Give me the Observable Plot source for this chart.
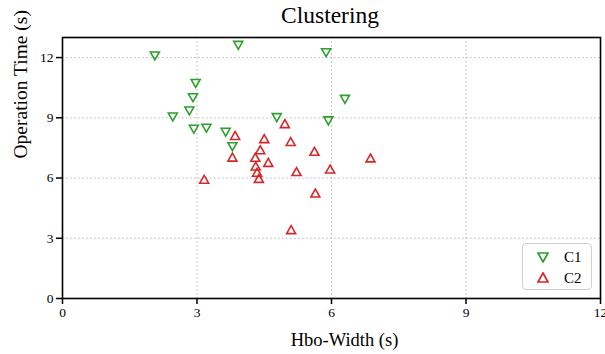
<!DOCTYPE html>
<html>
<head>
<meta charset="utf-8">
<script src="https://cdn.jsdelivr.net/npm/d3@7"></script>
<script src="https://cdn.jsdelivr.net/npm/@observablehq/plot@0.6"></script>
<style>
  body { margin: 0; background: #fff; }
  #wrap { position: relative; width: 605px; height: 354px; font-family: "Liberation Serif", "Times New Roman", serif; }
  #title { position: absolute; left: 62px; width: 536px; top: 2px; text-align: center; font-size: 23.5px; line-height: normal; color: #000; }
  #legend { position: absolute; left: 522px; top: 243px; width: 68px; height: 45px; border: 1.5px solid #d0d0d0; border-radius: 4px; background: rgba(255,255,255,0.85); }
  .lg { position: absolute; left: 0; height: 20px; display: flex; align-items: center; font-size: 15px; }
  .lg svg { margin-left: 14px; margin-right: 15px; }
</style>
</head>
<body>
<div id="wrap">
  <div id="chart"></div>
  <div id="title">Clustering</div>
  <div id="legend"></div>
</div>
<script>
// ---- data ----
const c1X = [2.06, 3.92, 5.88, 2.97, 2.91, 2.83, 2.46, 2.93, 3.21, 3.64, 3.79, 4.78, 5.93, 6.30];
const c1Y = [12.08, 12.61, 12.24, 10.71, 10.00, 9.34, 9.04, 8.43, 8.48, 8.28, 7.56, 9.01, 8.85, 9.92];
const c2X = [4.96, 3.85, 4.50, 5.09, 4.41, 5.62, 3.79, 4.30, 4.59, 6.87, 4.31, 4.34, 5.22, 5.97, 4.38, 3.16, 5.64, 5.10];
const c2Y = [8.71, 8.12, 7.96, 7.82, 7.41, 7.33, 7.04, 7.03, 6.78, 7.00, 6.60, 6.29, 6.32, 6.45, 5.98, 5.94, 5.25, 3.43];
const seriesNames = ["C1", "C2"];
const xTicks = [0, 3, 6, 9, 12];
const yTicks = [0, 3, 6, 9, 12];
const xLabel = "Hbo-Width (s)";
const yLabel = "Operation Time (s)";
const colors = { C1: "#2ca02c", C2: "#d62728" };

const c1 = c1X.map((x, i) => ({ x, y: c1Y[i], s: "C1" }));
const c2 = c2X.map((x, i) => ({ x, y: c2Y[i], s: "C2" }));

// bbox-centred triangles (like matplotlib markers)
const triDown = { draw(ctx, size) { const a = Math.sqrt(size / Math.PI); const h = a * 0.88;
  ctx.moveTo(-a, -h); ctx.lineTo(a, -h); ctx.lineTo(0, h); ctx.closePath(); } };
const triUp = { draw(ctx, size) { const a = Math.sqrt(size / Math.PI); const h = a * 0.88;
  ctx.moveTo(0, -h); ctx.lineTo(a, h); ctx.lineTo(-a, h); ctx.closePath(); } };

const chart = Plot.plot({
  width: 605,
  height: 354,
  marginTop: 37,
  marginLeft: 62,
  marginRight: 5,
  marginBottom: 56,
  style: { fontFamily: "Liberation Serif, Times New Roman, serif", fontSize: "13.5px", color: "#000", background: "#fff" },
  x: { domain: [0, 12], ticks: xTicks, label: null },
  y: { domain: [0, 13], ticks: yTicks, label: null },
  marks: [
    Plot.gridX(xTicks, { stroke: "#b8b8b8", strokeOpacity: 1, strokeDasharray: "1.5,2.5" }),
    Plot.gridY(yTicks, { stroke: "#b8b8b8", strokeOpacity: 1, strokeDasharray: "1.5,2.5" }),
    Plot.axisX(xTicks, { tickSize: 6, tickPadding: 3, strokeWidth: 1.5, stroke: "#000", label: null }),
    Plot.axisY(yTicks, { tickSize: 6, tickPadding: 3, strokeWidth: 1.5, stroke: "#000", label: null }),
    Plot.text([xLabel], { frameAnchor: "bottom", dy: 42, dx: 13, fontSize: 18.5, lineAnchor: "middle", fill: "#000" }),
    Plot.text([yLabel], { frameAnchor: "left", rotate: -90, dx: -42, dy: -9.5, fontSize: 19.5, lineAnchor: "middle", fill: "#000" }),
    Plot.dot(c1, { x: "x", y: "y", symbol: triDown, r: 4.5, stroke: colors.C1, strokeWidth: 1.6, fill: "none" }),
    Plot.dot(c2, { x: "x", y: "y", symbol: triUp, r: 4.5, stroke: colors.C2, strokeWidth: 1.6, fill: "none" }),
    Plot.frame({ stroke: "#000", strokeWidth: 1.6 })
  ]
});
document.getElementById("chart").appendChild(chart);

// legend
const legend = document.getElementById("legend");
seriesNames.forEach((name, i) => {
  const row = document.createElement("div");
  row.className = "lg";
  row.style.top = (3 + i * 21) + "px";
  const pts = name === "C1" ? "1,2 11,2 6,11" : "6,1 11,10 1,10";
  row.innerHTML = `<svg width="12" height="12"><polygon points="${pts}" fill="none" stroke="${colors[name]}" stroke-width="1.7"/></svg><span>${name}</span>`;
  legend.appendChild(row);
});
</script>
</body>
</html>
